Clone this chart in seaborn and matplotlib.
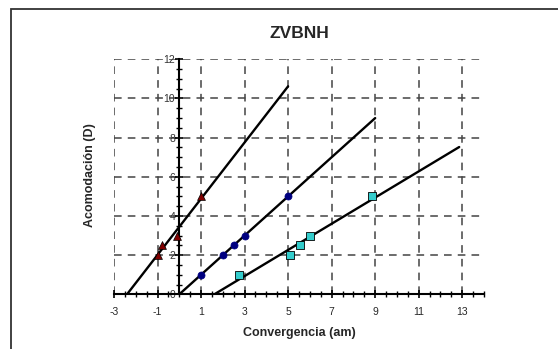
import numpy as np
import pandas as pd
import matplotlib
matplotlib.use("Agg")
import matplotlib.pyplot as plt
import seaborn as sns
from matplotlib.ticker import MultipleLocator, FixedLocator
from matplotlib.patches import Rectangle

# ---- data ----
tri_x = [-1.0, -0.8, -0.1, 1.0]
tri_y = [2.0, 2.5, 3.0, 5.0]
circ_x = [1.0, 2.0, 2.5, 3.0, 5.0]
circ_y = [1.0, 2.0, 2.5, 3.0, 5.0]
sq_x = [2.75, 5.08, 5.54, 6.0, 8.87]
sq_y = [1.0, 2.0, 2.5, 3.0, 5.0]
# x extent of each fitted line
tri_line_x = [-2.4, 5.0]
circ_line_x = [0.0, 9.0]
sq_line_x = [1.61, 12.86]
x_ticks = [-3, -1, 1, 3, 5, 7, 9, 11, 13]
y_ticks = [0, 2, 4, 6, 8, 10, 12]
title = "ZVBNH"
xlabel = "Convergencia (am)"
ylabel = "Acomodación (D)"

sns.set_theme(style="white")
plt.rcParams['font.family'] = ['Liberation Sans', 'DejaVu Sans']

fig = plt.figure(figsize=(5.58, 3.49), dpi=100)
ax = fig.add_axes([0.2043, 0.1567, 0.8674 - 0.2043, 0.830 - 0.1567])

# outer frame (cut off on right/bottom)
fig.patches.append(Rectangle((11 / 558, -0.1), 1.2, 1 - 9 / 349 + 0.1,
                             transform=fig.transFigure, fill=False,
                             edgecolor='#333333', linewidth=1.3, zorder=0))

ax.set_xlim(-3, 14)
ax.set_ylim(0, 12)

# grid
for gx in x_ticks:
    ax.axvline(gx, color='#444444', lw=1.1, ls=(0, (5, 4)), zorder=0)
for gy in y_ticks[1:]:
    ax.axhline(gy, color='#444444', lw=1.1, ls=(0, (5, 4)), zorder=0)

# regression lines
for xs, ys, lx in [(tri_x, tri_y, tri_line_x), (circ_x, circ_y, circ_line_x), (sq_x, sq_y, sq_line_x)]:
    m, b = np.polyfit(xs, ys, 1)
    lxa = np.array(lx)
    sns.lineplot(x=lxa, y=m * lxa + b, ax=ax, color='black', lw=1.7, zorder=3)

sns.scatterplot(x=tri_x, y=tri_y, ax=ax, marker='^', s=32, color='#800000',
                edgecolor='black', linewidth=0.5, zorder=4)
sns.scatterplot(x=circ_x, y=circ_y, ax=ax, marker='o', s=26, color='#000080',
                edgecolor='#000080', linewidth=0.5, zorder=4)
sns.scatterplot(x=sq_x, y=sq_y, ax=ax, marker='s', s=40, color='#33CCCC',
                edgecolor='black', linewidth=0.6, zorder=4)

# spines
for s in ['top', 'right']:
    ax.spines[s].set_visible(False)
ax.spines['left'].set_position(('data', 0))
ax.spines['bottom'].set_position(('data', 0))
ax.spines['left'].set_color('black')
ax.spines['bottom'].set_color('black')
ax.spines['left'].set_linewidth(1.5)
ax.spines['bottom'].set_linewidth(1.5)
ax.spines['left'].set_zorder(2)
ax.spines['bottom'].set_zorder(2)

ax.xaxis.set_major_locator(FixedLocator(x_ticks))
ax.yaxis.set_major_locator(FixedLocator(y_ticks))
ax.xaxis.set_minor_locator(MultipleLocator(0.5))
ax.yaxis.set_minor_locator(MultipleLocator(0.5))
ax.set_xticklabels([str(v) for v in x_ticks])
ax.set_yticklabels([str(v) for v in y_ticks])
ax.tick_params(axis='both', which='both', direction='inout', color='black',
               left=True, bottom=True)
ax.tick_params(axis='both', which='major', length=6, width=1.2, labelsize=7.5, pad=2)
ax.tick_params(axis='both', which='minor', length=4, width=1.0)
ax.tick_params(axis='x', which='major', pad=6)
ax.tick_params(axis='y', which='major', pad=0, labelcolor='#333333')

ax.set_title(title, fontsize=12.5, fontweight='bold', pad=15)
ax.set_xlabel(xlabel, fontsize=9, fontweight='bold', labelpad=7)
ax.set_ylabel('')
fig.text(90 / 558, 1 - 175 / 349, ylabel, rotation=90, fontsize=9,
         fontweight='bold', ha='center', va='center')
ax.patch.set_alpha(0)

fig.savefig('out.png', dpi=100)
